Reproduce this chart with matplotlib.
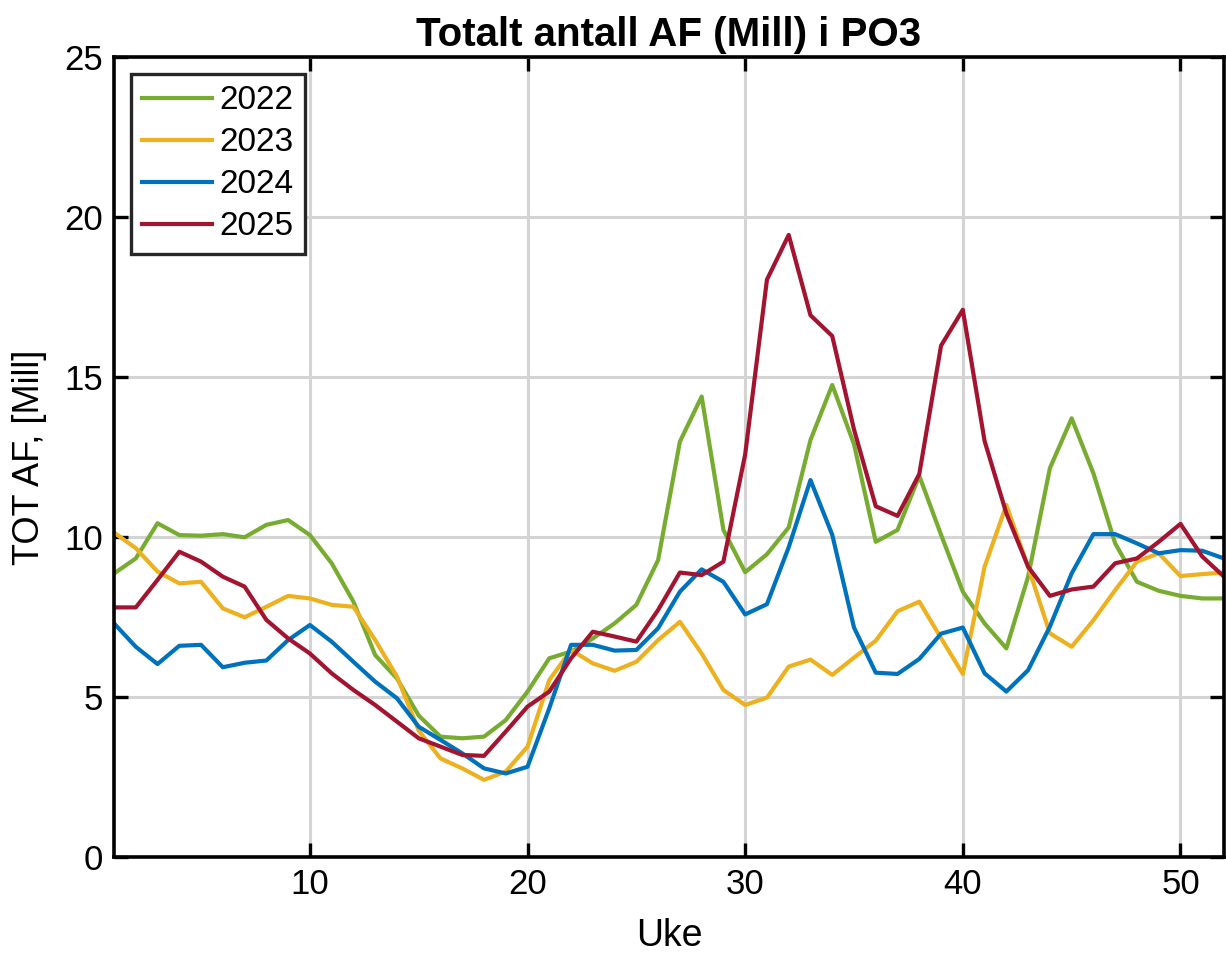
import numpy as np
import matplotlib.pyplot as plt

plt.rcParams['font.family'] = ['Liberation Sans', 'DejaVu Sans']

weeks = np.arange(1, 53)

# TOT AF (Mill) per week
af_2022 = [8.86, 9.33, 10.43, 10.06, 10.04, 10.09, 9.99, 10.38, 10.53, 10.06,
           9.18, 7.98, 6.31, 5.58, 4.42, 3.76, 3.71, 3.76, 4.28, 5.17,
           6.21, 6.42, 6.83, 7.30, 7.88, 9.28, 12.98, 14.39, 10.22, 8.90,
           9.46, 10.30, 13.03, 14.75, 12.90, 9.85, 10.22, 11.91, 10.07, 8.29,
           7.30, 6.52, 8.76, 12.15, 13.71, 11.99, 9.80, 8.60, 8.32, 8.16,
           8.08, 8.08]
af_2023 = [10.14, 9.65, 8.92, 8.55, 8.60, 7.77, 7.49, 7.82, 8.16, 8.08,
           7.88, 7.82, 6.78, 5.64, 3.95, 3.08, 2.77, 2.41, 2.67, 3.45,
           5.53, 6.47, 6.05, 5.82, 6.10, 6.78, 7.35, 6.36, 5.22, 4.75,
           4.98, 5.95, 6.17, 5.69, 6.23, 6.76, 7.68, 7.98, 6.84, 5.72,
           9.07, 11.00, 9.07, 6.99, 6.57, 7.40, 8.34, 9.23, 9.49, 8.78,
           8.84, 8.89]
af_2024 = [7.30, 6.57, 6.03, 6.60, 6.63, 5.93, 6.07, 6.14, 6.78, 7.25,
           6.73, 6.10, 5.48, 4.96, 4.07, 3.66, 3.24, 2.77, 2.61, 2.82,
           4.65, 6.63, 6.63, 6.45, 6.47, 7.15, 8.29, 8.99, 8.60, 7.58,
           7.90, 9.68, 11.78, 10.07, 7.17, 5.76, 5.72, 6.19, 6.98, 7.17,
           5.74, 5.17, 5.84, 7.20, 8.86, 10.09, 10.09, 9.80, 9.49, 9.59,
           9.57, 9.33]
af_2025 = [7.80, 7.80, 8.66, 9.54, 9.23, 8.76, 8.45, 7.41, 6.83, 6.36,
           5.74, 5.22, 4.75, 4.23, 3.71, 3.45, 3.19, 3.16, 3.92, 4.70,
           5.17, 6.21, 7.04, 6.89, 6.73, 7.72, 8.89, 8.81, 9.23, 12.58,
           18.04, 19.44, 16.93, 16.28, 13.36, 10.96, 10.66, 11.97, 15.98, 17.10,
           13.00, 10.74, 9.07, 8.16, 8.36, 8.45, 9.18, 9.33, 9.85, 10.41,
           9.39, 8.76]

series = [("2022", af_2022, "#77AC30"),
          ("2023", af_2023, "#EDB120"),
          ("2024", af_2024, "#0072BD"),
          ("2025", af_2025, "#A2142F")]

fig = plt.figure(figsize=(12.26, 9.6), dpi=100)
ax = fig.add_axes([114 / 1226, 103 / 960, 1110 / 1226, 800 / 960])

for label, vals, col in series:
    ax.plot(weeks, vals, color=col, lw=3.0, label=label)

ax.set_xlim(1, 52)
ax.set_ylim(0, 25)
ax.set_xticks([10, 20, 30, 40, 50])
ax.set_yticks([0, 5, 10, 15, 20, 25])
ax.grid(True, color="#d4d4d4", lw=2.2)
ax.set_axisbelow(True)
ax.tick_params(direction="in", length=10, width=2.4, labelsize=25,
               top=True, right=True, pad=8)
for s in ax.spines.values():
    s.set_linewidth(2.6)

ax.set_xlabel("Uke", fontsize=27, labelpad=12)
ax.set_ylabel("TOT AF, [Mill]", fontsize=26, labelpad=12)
ax.set_title("Totalt antall AF (Mill) i PO3", fontsize=29, fontweight="bold", pad=8)

leg = ax.legend(loc="upper left", fontsize=24, fancybox=False, framealpha=1,
                handlelength=2.1, handletextpad=0.2, labelspacing=0.33,
                borderpad=0.35, borderaxespad=0.5)
leg.get_frame().set_edgecolor("#262626")
leg.get_frame().set_linewidth(2.4)

fig.savefig("out.png", dpi=100)
